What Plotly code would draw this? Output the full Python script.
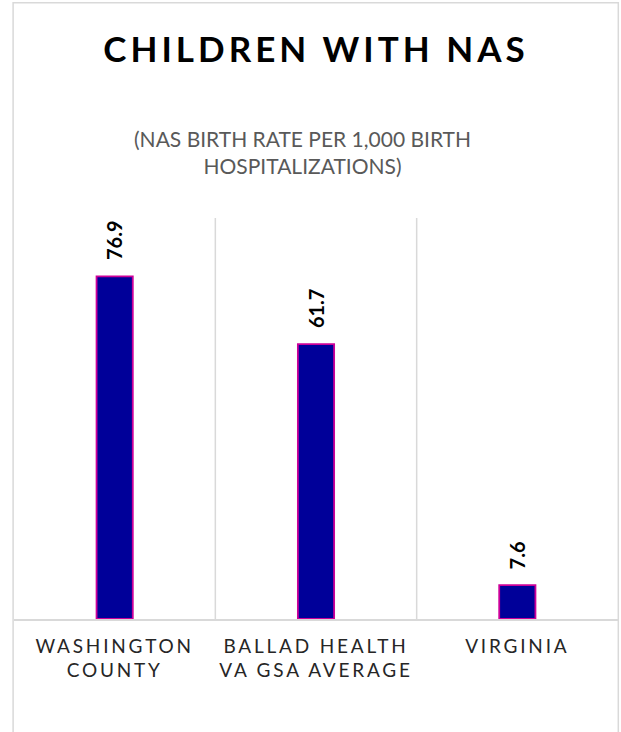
import plotly.graph_objects as go

categories = ["WASHINGTON<br>COUNTY", "BALLAD HEALTH<br>VA GSA AVERAGE", "VIRGINIA"]
values = [76.9, 61.7, 7.6]
value_labels = ["76.9", "61.7", "7.6"]

FONT = "Lato"
GRID = "#d9d9d9"

def spaced(txt, px):
    return "<br>".join(f'<span style="letter-spacing:{px}px">{line}</span>' for line in txt.split("<br>"))

fig = go.Figure()
fig.add_trace(go.Bar(
    x=list(range(len(categories))),
    y=values,
    width=0.18,
    marker=dict(color="#000099", line=dict(color="#cc0099", width=1.8)),
    hoverinfo="skip",
))

for i, (v, t) in enumerate(zip(values, value_labels)):
    fig.add_annotation(
        x=i, y=v, xref="x", yref="y", text=f"<b>{t}</b>",
        textangle=-90, showarrow=False, yanchor="bottom", xanchor="center",
        yshift=14, font=dict(family=FONT, size=20, color="#000000"),
    )

# category separators
for i in range(1, len(categories)):
    fig.add_shape(type="line", xref="x", yref="paper", x0=i - 0.5, x1=i - 0.5,
                  y0=0, y1=1, line=dict(color=GRID, width=1.5), layer="below")

# subtitle
fig.add_annotation(
    x=0.478, y=1.165, xref="paper", yref="paper",
    text="(NAS BIRTH RATE PER 1,000 BIRTH<br>HOSPITALIZATIONS)",
    showarrow=False, xanchor="center", yanchor="middle",
    font=dict(family=FONT, size=21, color="#595959"),
)

# outer chart border
fig.add_shape(type="rect", xref="paper", yref="paper",
              x0=-0.0015, x1=1.0005, y0=-0.4, y1=1.537,
              line=dict(color=GRID, width=1.5), layer="below")

fig.update_layout(
    width=621, height=732,
    margin=dict(l=14, r=3, t=218, b=113),
    paper_bgcolor="white", plot_bgcolor="white",
    showlegend=False,
    title=dict(
        text='<b><span style="letter-spacing:4px">CHILDREN WITH NAS</span></b>',
        x=0.5, xref="paper", xanchor="center",
        y=1 - 50 / 732, yref="container", yanchor="middle",
        font=dict(family=FONT, size=35, color="#000000"),
    ),
    xaxis=dict(
        tickmode="array",
        tickvals=list(range(len(categories))),
        ticktext=[spaced(c, 2.8) for c in categories],
        range=[-0.5, len(categories) - 0.5],
        showgrid=False,
        showline=True, linecolor=GRID, linewidth=1.5,
        ticks="", ticklabelstandoff=9,
        tickfont=dict(family=FONT, size=19, color="#262626"),
        zeroline=False,
    ),
    yaxis=dict(
        range=[0, 90], showgrid=False, showticklabels=False,
        zeroline=False, showline=False, ticks="",
    ),
)

fig.write_html("out.html", config={"displayModeBar": False},
               post_script="document.body.style.margin='0px';")
